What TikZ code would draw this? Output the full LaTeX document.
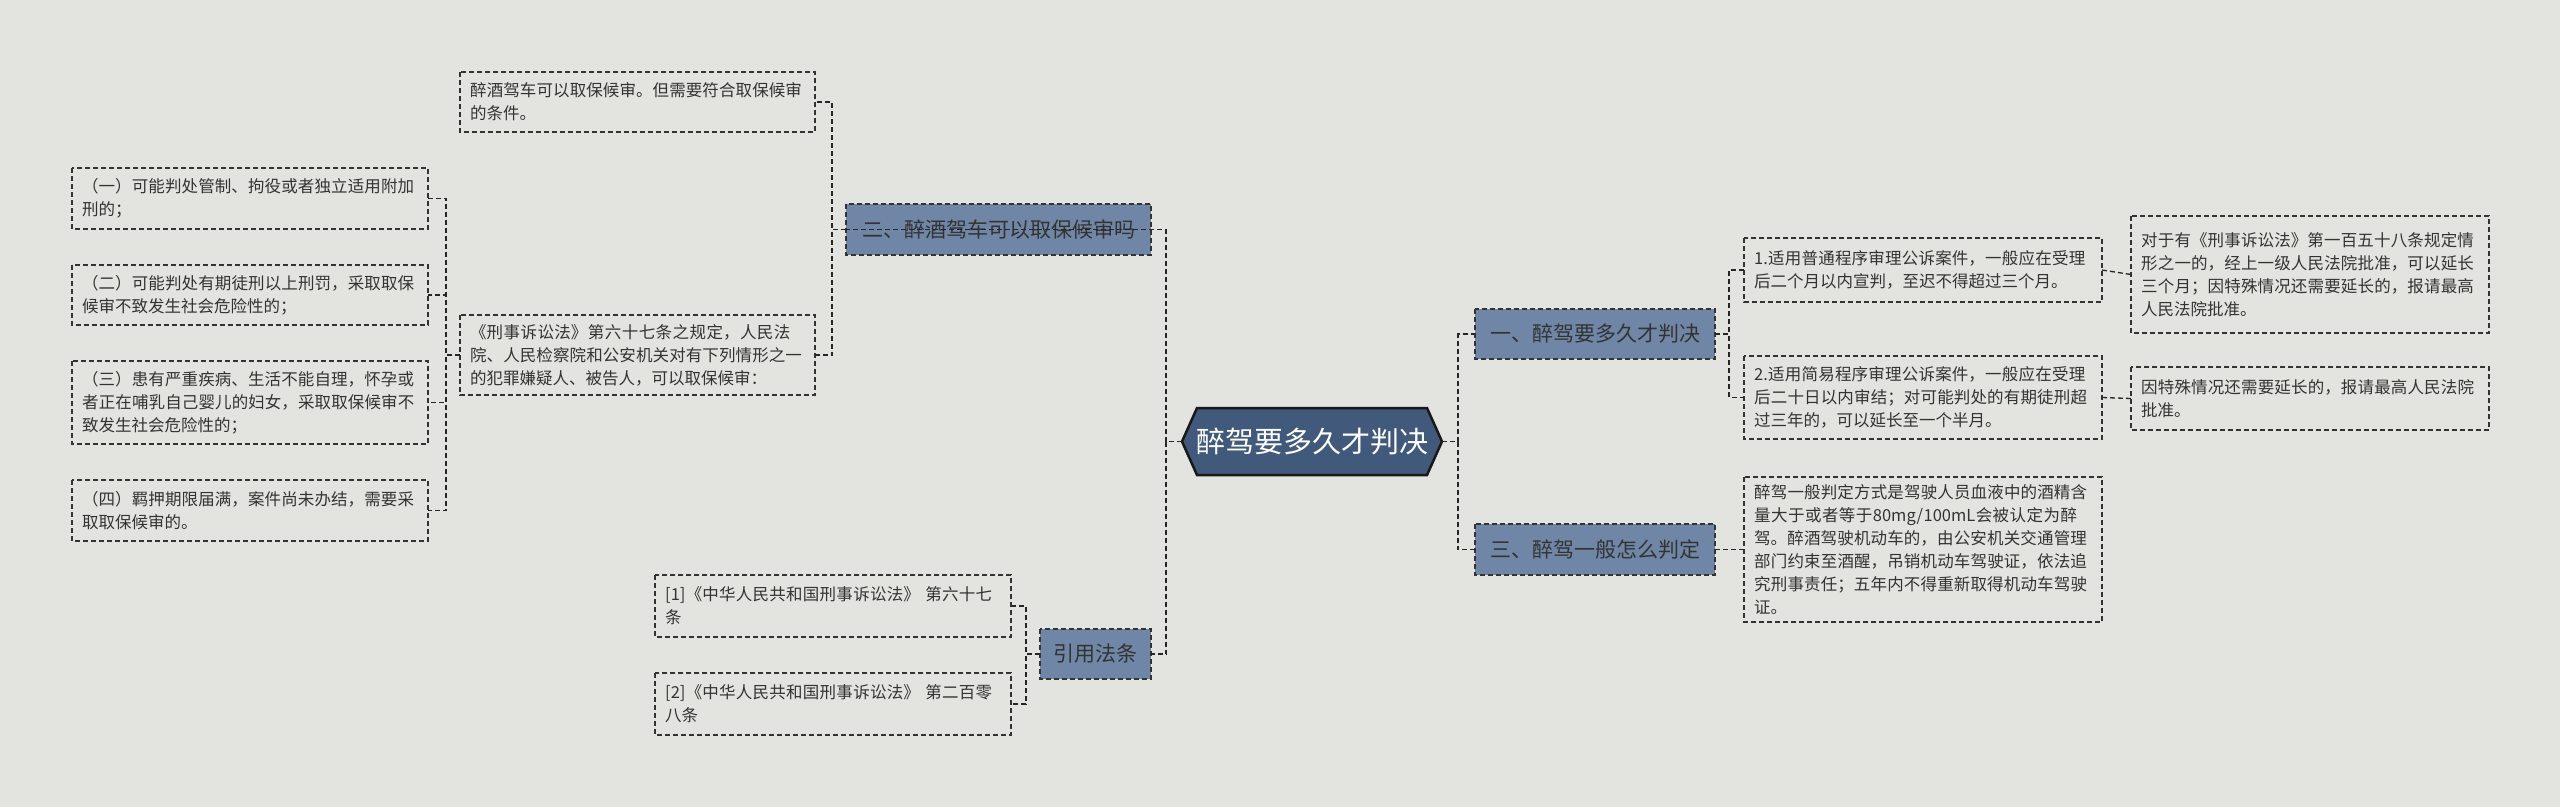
\documentclass[tikz,border=0pt]{standalone}
\usepackage{fontspec}
\setmainfont{Noto Sans CJK SC}
\XeTeXlinebreaklocale "zh"
\XeTeXlinebreakskip=0pt plus 1pt
\definecolor{bg}{HTML}{E3E3DF}
\definecolor{lvl}{HTML}{6F86A6}
\definecolor{ctr}{HTML}{41597A}
\definecolor{txt}{HTML}{333333}
\tikzset{
 leaf/.style={draw=txt,dash pattern=on 5pt off 3pt,line width=1.3pt,fill=bg},
 lv/.style={draw=black!80,dash pattern=on 5pt off 3pt,line width=1.3pt,fill=lvl},
 con/.style={draw=black!85,dash pattern=on 5pt off 3pt,line width=1.3pt},
}
\newcommand{\leafbox}[6]{%
 \draw[leaf] (#2,#3) rectangle (#4,#5);
 \pgfmathsetmacro{\tw}{#4-#2-20}%
 \node[text=txt,align=left,anchor=west,inner sep=0pt,font=\fontsize{16.5}{23}\selectfont,text width=\tw pt] (#1) at ({(#2+10)},{(#3+#5)/2}) {#6};
 \coordinate (#1w) at (#2,{(#3+#5)/2});
 \coordinate (#1e) at (#4,{(#3+#5)/2});}
\newcommand{\lvbox}[6]{%
 \draw[lv] (#2,#3) rectangle (#4,#5);
 \node[text=txt,inner sep=0pt,font=\fontsize{21}{26}\selectfont] (#1) at ({(#2+#4)/2},{(#3+#5)/2}) {#6};
 \coordinate (#1w) at (#2,{(#3+#5)/2});
 \coordinate (#1e) at (#4,{(#3+#5)/2});}
\begin{document}
\begin{tikzpicture}[x=1pt,y=-1pt]
\fill[bg] (0,0) rectangle (2560,807);
\useasboundingbox (0,0) rectangle (2560,807);
\draw[fill=ctr,draw=black!90,line width=2.5pt] (1182,441.5) -- (1197,408) -- (1427,408) -- (1442,441.5) -- (1427,475) -- (1197,475) -- cycle;
\node[text=white,font=\fontsize{29}{34}\selectfont] (c) at (1312,441.5) {醉驾要多久才判决};
\coordinate (ce) at (1442,441.5); \coordinate (cw) at (1182,441.5);
\lvbox{a}{1475}{309}{1715}{359}{一、醉驾要多久才判决}
\lvbox{b}{1475}{524}{1715}{575}{三、醉驾一般怎么判定}
\lvbox{d}{846}{204}{1151}{255}{二、醉酒驾车可以取保候审吗}
\lvbox{e}{1040}{629}{1151}{679}{引用法条}
\leafbox{r1}{1744}{238}{2102}{302}{1.适用普通程序审理公诉案件，一般应在受理后二个月以内宣判，至迟不得超过三个月。}
\leafbox{r2}{1744}{356}{2102}{439}{2.适用简易程序审理公诉案件，一般应在受理后二十日以内审结；对可能判处的有期徒刑超过三年的，可以延长至一个半月。}
\leafbox{r1a}{2131}{216}{2489}{333}{对于有《刑事诉讼法》第一百五十八条规定情形之一的，经上一级人民法院批准，可以延长三个月；因特殊情况还需要延长的，报请最高人民法院批准。}
\leafbox{r2a}{2131}{367}{2489}{430}{因特殊情况还需要延长的，报请最高人民法院批准。}
\leafbox{r3}{1744}{477}{2102}{622}{醉驾一般判定方式是驾驶人员血液中的酒精含量大于或者等于80mg/100mL会被认定为醉驾。醉酒驾驶机动车的，由公安机关交通管理部门约束至酒醒，吊销机动车驾驶证，依法追究刑事责任；五年内不得重新取得机动车驾驶证。}
\leafbox{l1}{460}{72}{815}{132}{醉酒驾车可以取保候审。但需要符合取保候审的条件。}
\leafbox{l2}{460}{315}{815}{395}{《刑事诉讼法》第六十七条之规定，人民法院、人民检察院和公安机关对有下列情形之一的犯罪嫌疑人、被告人，可以取保候审：}
\leafbox{q1}{72}{168}{428}{229}{（一）可能判处管制、拘役或者独立适用附加刑的；}
\leafbox{q2}{72}{265}{428}{325}{（二）可能判处有期徒刑以上刑罚，采取取保候审不致发生社会危险性的；}
\leafbox{q3}{72}{361}{428}{444}{（三）患有严重疾病、生活不能自理，怀孕或者正在哺乳自己婴儿的妇女，采取取保候审不致发生社会危险性的；}
\leafbox{q4}{72}{480}{428}{541}{（四）羁押期限届满，案件尚未办结，需要采取取保候审的。}
\leafbox{k1}{655}{575}{1011}{637}{[1]《中华人民共和国刑事诉讼法》~第六十七条}
\leafbox{k2}{655}{673}{1011}{735}{[2]《中华人民共和国刑事诉讼法》~第二百零八条}
\draw[con] (ce) -- ++(16,0) |- (aw);
\draw[con] (ce) -- ++(16,0) |- (bw);
\draw[con] (cw) -- ++(-16,0) |- (dw);
\draw[con] (cw) -- ++(-16,0) |- (ee);
\draw[con] (ae) -- ++(14,0) |- (r1w);
\draw[con] (ae) -- ++(14,0) |- (r2w);
\draw[con] (be) -- (r3w);
\draw[con] (r1e) -- (r1aw);
\draw[con] (r2e) -- (r2aw);
\draw[con] (dw) -- ++(-14,0) |- (l1e);
\draw[con] (dw) -- ++(-14,0) |- (l2e);
\draw[con] (l2w) -- ++(-14,0) |- (q1e);
\draw[con] (l2w) -- ++(-14,0) |- (q2e);
\draw[con] (l2w) -- ++(-14,0) |- (q3e);
\draw[con] (l2w) -- ++(-14,0) |- (q4e);
\draw[con] (ew) -- ++(-14,0) |- (k1e);
\draw[con] (ew) -- ++(-14,0) |- (k2e);
\end{tikzpicture}
\end{document}
